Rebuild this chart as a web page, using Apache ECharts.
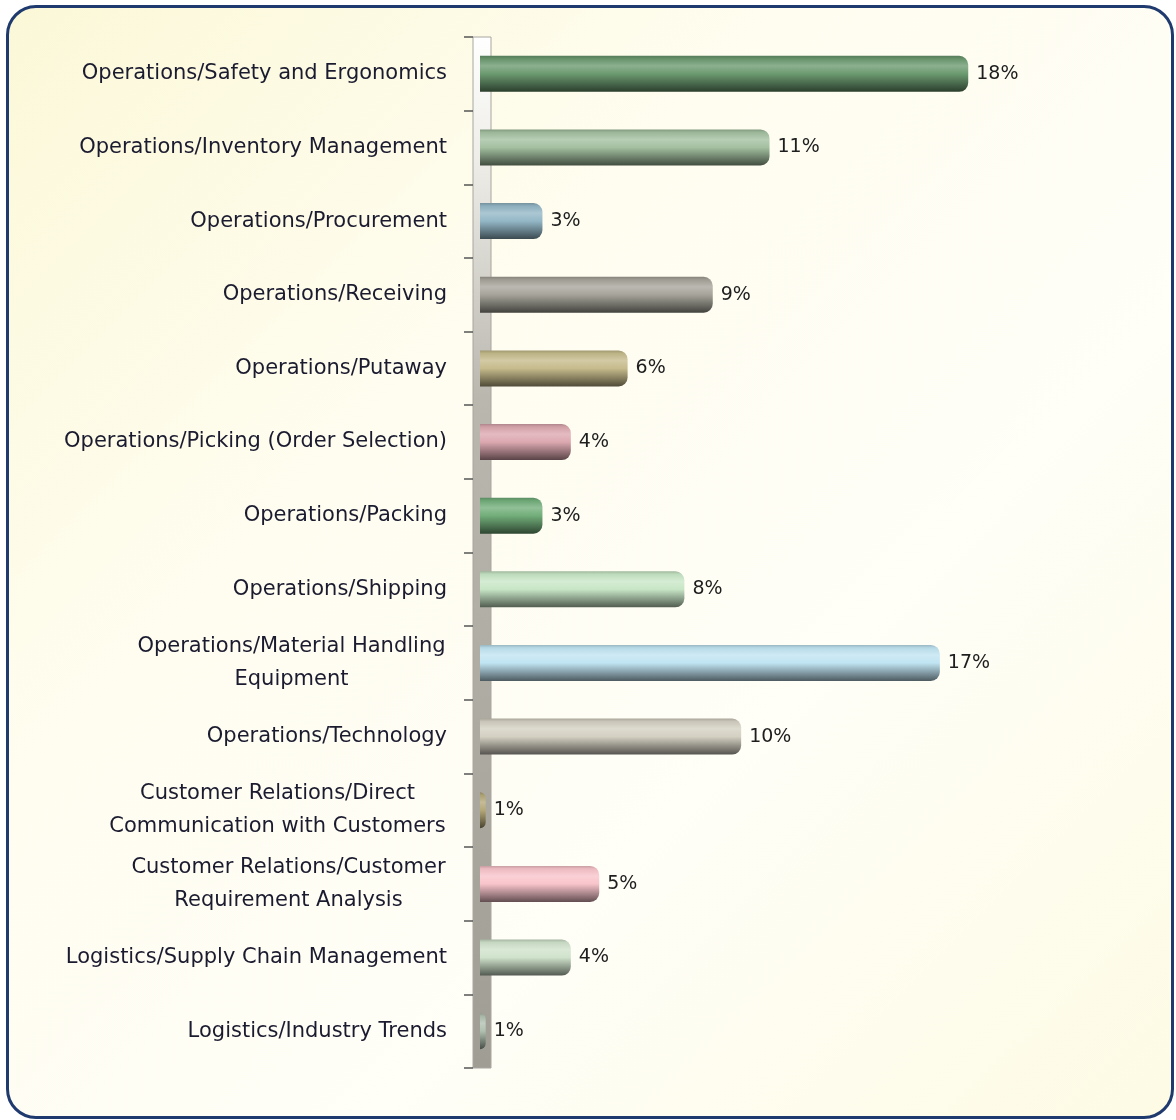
<!DOCTYPE html>
<html lang="en">
<head>
    <meta charset="UTF-8">
    <title>Topics</title>
    <script src="https://cdn.jsdelivr.net/npm/echarts@6/dist/echarts.min.js"></script>
    <style>
        body { margin: 0; background: #fff; }
        #frame {
            position: absolute; left: 6px; top: 5px; width: 1162px; height: 1108px;
            border: 3px solid #1f3a6e; border-radius: 30px;
            background: linear-gradient(135deg, #fbf8d8 0%, #fffdf0 35%, #fffef7 65%, #fdfbe4 100%);
        }
        #chartmain { position: absolute; left: 0; top: 0; width: 1176px; height: 1120px; }
    </style>
</head>
<body>
<div id="frame"></div>
<div id="chartmain"></div>
<script>
    // categories, top to bottom
    var categories = [
        'Operations/Safety and Ergonomics',
        'Operations/Inventory Management',
        'Operations/Procurement',
        'Operations/Receiving',
        'Operations/Putaway',
        'Operations/Picking (Order Selection)',
        'Operations/Packing',
        'Operations/Shipping',
        'Operations/Material Handling\nEquipment',
        'Operations/Technology',
        'Customer Relations/Direct\nCommunication with Customers',
        'Customer Relations/Customer\nRequirement Analysis',
        'Logistics/Supply Chain Management',
        'Logistics/Industry Trends'
    ];
    var values = [18, 11, 3, 9, 6, 4, 3, 8, 17, 10, 1, 5, 4, 1];
    var barColors = ['#6b9a6f', '#a3c0a0', '#93b7c6', '#a6a49a', '#c6bb8c', '#dca8b0', '#72ae7a',
        '#c8e6c6', '#c0e4f2', '#d4d0c2', '#b4a878', '#f8c4cb', '#cfe2cb', '#b0c0b0'];

    var GRID_LEFT = 480, GRID_TOP = 37, GRID_H = 1031, AXIS_OFFSET = 7;
    var LABEL_SIZE = 21;
    var FONT = LABEL_SIZE + 'px "DejaVu Sans"';

    function shade(hex, f) {
        var n = parseInt(hex.slice(1), 16);
        var r = n >> 16, g = (n >> 8) & 255, b = n & 255;
        function c(v) { return Math.max(0, Math.min(255, Math.round(f < 0 ? v * (1 + f) : v + (255 - v) * f))); }
        return 'rgb(' + c(r) + ',' + c(g) + ',' + c(b) + ')';
    }
    function cylinder(hex) {
        return new echarts.graphic.LinearGradient(0, 0, 0, 1, [
            {offset: 0, color: shade(hex, -0.2)},
            {offset: 0.08, color: shade(hex, -0.05)},
            {offset: 0.28, color: shade(hex, 0.22)},
            {offset: 0.5, color: hex},
            {offset: 0.82, color: shade(hex, -0.38)},
            {offset: 1, color: shade(hex, -0.6)}
        ]);
    }

    // centre the lines of wrapped labels
    var ctx = document.createElement('canvas').getContext('2d');
    ctx.font = FONT;
    var rich = {};
    categories.forEach(function (c, i) {
        var lines = c.split('\n');
        var w = Math.max.apply(null, lines.map(function (l) { return ctx.measureText(l).width; }));
        rich['r' + i] = {width: Math.ceil(w) + 2, align: 'center', fontSize: LABEL_SIZE, lineHeight: 33,
            fontFamily: 'DejaVu Sans', color: '#1b1b30'};
    });

    var data = values.map(function (v, i) {
        return {value: v, itemStyle: {color: cylinder(barColors[i])}};
    });

    var myChart = echarts.init(document.getElementById('chartmain'));
    var wallX = GRID_LEFT - AXIS_OFFSET;
    var option = {
        animation: false,
        grid: {left: GRID_LEFT, top: GRID_TOP, height: GRID_H, width: 545},
        xAxis: {type: 'value', min: 0.8, max: 20, show: false},
        yAxis: {
            type: 'category', data: categories, inverse: true, offset: AXIS_OFFSET,
            axisLine: {show: false},
            axisTick: {show: true, length: 9, lineStyle: {color: '#555', width: 1.5}},
            axisLabel: {
                margin: 26,
                formatter: function (v) {
                    var i = categories.indexOf(v);
                    if (v.indexOf('\n') < 0) return v;
                    return v.split('\n').map(function (l) { return '{r' + i + '|' + l + '}'; }).join('\n');
                },
                fontSize: LABEL_SIZE, fontFamily: 'DejaVu Sans', color: '#1b1b30', lineHeight: 33,
                rich: rich
            }
        },
        graphic: [{
            type: 'rect', z: 0,
            shape: {x: wallX, y: GRID_TOP, width: 18, height: GRID_H},
            style: {
                fill: new echarts.graphic.LinearGradient(0, 0, 0, 1, [
                    {offset: 0, color: '#ffffff'},
                    {offset: 0.12, color: '#eeede8'},
                    {offset: 0.35, color: '#b9b7ae'},
                    {offset: 1, color: '#a09d95'}
                ]),
                stroke: '#a8a69e', lineWidth: 1
            }
        }],
        series: [{
            type: 'bar', data: data, barWidth: 36, clip: true,
            itemStyle: {borderRadius: [0, 9, 9, 0]},
            label: {
                show: true, position: 'right', distance: 8, formatter: '{c}%',
                fontSize: 19, fontFamily: 'DejaVu Sans', color: '#1e1e1e'
            }
        }]
    };
    myChart.setOption(option);
</script>
</body>
</html>
